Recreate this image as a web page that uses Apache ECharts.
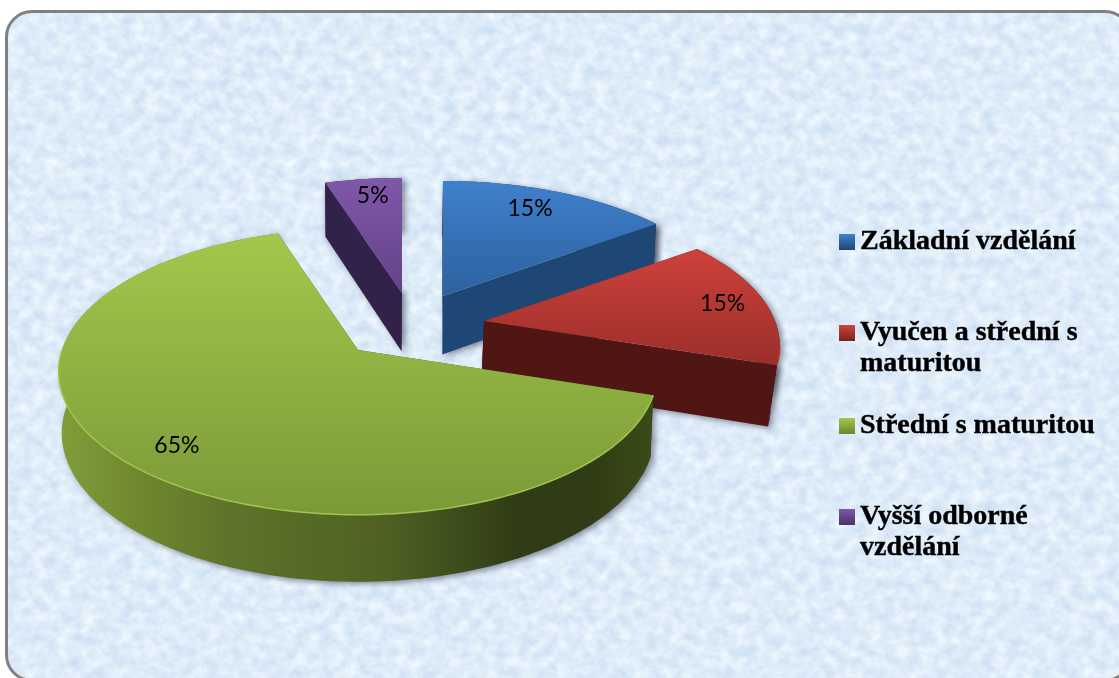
<!DOCTYPE html>
<html><head><meta charset="utf-8">
<style>
html,body{margin:0;padding:0;width:1119px;height:678px;overflow:hidden;background:#fff}
#frame{position:absolute;left:5px;top:10px;width:1127px;height:672px;box-sizing:border-box;border:3px solid #808080;border-radius:27px;background-color:#dcebf8}
#chart{position:absolute;left:0;top:0;width:1119px;height:678px}
</style>
<script src="https://cdn.jsdelivr.net/npm/echarts@6/dist/echarts.min.js"></script>
</head><body>
<div id="frame"></div>
<div id="chart"></div>
<script>
const categories = ['Základní vzdělání', 'Vyučen a střední s maturitou', 'Střední s maturitou', 'Vyšší odborné vzdělání'];
const legendLabels = ['Základní vzdělání', 'Vyučen a střední s\nmaturitou', 'Střední s maturitou', 'Vyšší odborné\nvzdělání'];
const values = [15, 15, 65, 5];

// paper texture of the panel
const svg = '<svg xmlns="http://www.w3.org/2000/svg" width="1127" height="672"><filter id="n" x="0" y="0" width="100%" height="100%" color-interpolation-filters="sRGB"><feTurbulence type="fractalNoise" baseFrequency="0.08 0.09" numOctaves="4" seed="7"/><feColorMatrix values="0.2 0 0 0 0.77  0.15 0 0 0 0.85  0.06 0 0 0 0.945  0 0 0 0 1"/></filter><rect width="1127" height="672" filter="url(#n)"/></svg>';
document.getElementById('frame').style.backgroundImage = 'url("data:image/svg+xml,' + encodeURIComponent(svg) + '")';

// view of each exploded slice: screen apex, radii, perspective, colours
const views = [
  {ax:443, ay:296, rx:291, ry:135.6, p:0.179, sx:0.99,  sh0:true,  sh1:true,  top:['#3f80cc','#2c619e'], y0:180, y1:296, wall:'#1d426f', wall2:'#1f4776', rim:'#4a8ad4', lt:25,  lf:0.8},
  {ax:484, ay:321, rx:291, ry:135.6, p:0.179, sx:0.978, sh0:false, sh1:true,  top:['#cf423c','#9a2e2a'], y0:247, y1:365, wall:'#561815', wall2:'#4f1613', rim:'#b23a35', lt:81,  lf:0.85},
  {ax:358, ay:350, rx:296, ry:140,   p:0.15,  sx:0.99,  sh0:false, sh1:false, top:['#a3c84c','#7a9a38'], y0:231, y1:515, wall:'#3a4a18', wall2:'#3a4a18', rim:'#a0c64d', lt:222, lf:0.83},
  {ax:402, ay:293, rx:291, ry:135.6, p:0.179, sx:0.99,  sh0:true,  sh1:true,  top:['#7f58a8','#634288'], y0:178, y1:293, wall:'#32224a', wall2:'#32224a', rim:'#8a63b4', lt:352, lf:0.83}
];
const legendColors = [['#3f80cc','#1f4776'],['#cf423c','#7a2320'],['#a3c84c','#6a8630'],['#7f58a8','#4b3268']];
const legendTops = [224, 315, 408, 499];
const legendHeights = [16, 47, 16, 47];
const paint = [3, 0, 1, 2];

const grad = (x, y, x2, y2, stops) => new echarts.graphic.LinearGradient(x, y, x2, y2,
  stops.map((c, i) => Array.isArray(c) ? {offset:c[0], color:c[1]} : {offset:i/(stops.length-1), color:c}), true);
const total = values.reduce((a, b) => a + b, 0);
const shadow = {shadowColor:'rgba(30,30,50,0.5)', shadowBlur:6, shadowOffsetX:3, shadowOffsetY:2};

function renderSlice(i) {
  return function (params, api) {
    const v = views[i], val = api.value(0);
    const before = values.slice(0, i).reduce((a, b) => a + b, 0);
    const a0 = before/total*360, a1 = a0 + val/total*360;
    const P = (deg, f) => {
      const t = deg*Math.PI/180, fr = f === undefined ? 1 : f;
      const X = fr*Math.sin(t), Y = -fr*Math.cos(t), w = 1 - v.p*Y;
      return [v.ax + v.rx*X/w, v.ay + v.ry*Y/w];
    };
    const lower = q => [370 + (q[0]-370)*v.sx, q[1]*1.039 + 47];
    const arc = [], rimArc = [];
    for (let d = a0; d < a1; d += 1.5) {
      arc.push(P(d));
      if (d > 100 && d < 270) rimArc.push(P(d));
    }
    arc.push(P(a1));
    const apex = [v.ax, v.ay];
    const poly = (points, fill, extra) => ({type:'polygon', shape:{points}, style:Object.assign({fill}, extra||{})});
    const outerFill = i === 2
      ? grad(60,0,650,0,[[0,'#7f9e3a'],[0.12,'#71892f'],[0.3,'#5d722a'],[0.55,'#4e6123'],[0.78,'#2f3b14'],[0.9,'#303c15'],[1,'#3a4a18']])
      : v.wall;
    const wallStart = poly([P(a0), apex, lower(apex), lower(P(a0))], v.wall2, v.sh0 ? shadow : null);
    const wallEnd = poly([P(a1), apex, lower(apex), lower(P(a1))], v.wall2, v.sh1 ? shadow : null);
    const outer = poly(arc.concat(arc.slice().reverse().map(lower)), outerFill, shadow);
    const children = [];
    if (!v.sh0) children.push(wallStart);
    if (!v.sh1) children.push(wallEnd);
    children.push(outer);
    if (v.sh0) children.push(wallStart);
    if (v.sh1) children.push(wallEnd);
    children.push(poly([apex].concat(arc), grad(0, v.y0, 0, v.y1, v.top)));
    if (rimArc.length) children.push({type:'polyline', shape:{points:rimArc}, style:{stroke:v.rim, lineWidth:1.5, fill:null}});
    const lp = P(v.lt, v.lf);
    children.push({type:'text', x:lp[0], y:lp[1], style:{text:val + '%', fill:'#000', font:'23px Lato, sans-serif', align:'center', verticalAlign:'middle'}});
    return {type:'group', children};
  };
}

const chart = echarts.init(document.getElementById('chart'), null, {renderer:'canvas'});
chart.setOption({
  backgroundColor:'transparent',
  animation:false,
  legend: categories.map((c, i) => ({
    data:[c], left:839, top:legendTops[i], orient:'vertical', padding:0,
    selectedMode:false, itemWidth:16, itemHeight:legendHeights[i],
    icon: legendHeights[i] > 16 ? 'path://M0 0H16V16H0Z M0 47H0.01V47Z' : 'rect',
    itemStyle:{color:new echarts.graphic.LinearGradient(0,0,0,legendHeights[i] > 16 ? 0.34 : 1,[{offset:0,color:legendColors[i][0]},{offset:1,color:legendColors[i][1]}]), borderWidth:0},
    formatter:() => legendLabels[i],
    textStyle:{fontFamily:'"Liberation Serif", serif', fontWeight:'bold', fontSize:28, lineHeight:31, color:'#000', textBorderColor:'#000', textBorderWidth:0.4, padding:[5,0,0,0]}
  })),
  series: paint.map(i => ({
    type:'custom', name:categories[i], coordinateSystem:'none', silent:true,
    itemStyle:{color:views[i].top[0]},
    renderItem:renderSlice(i),
    data:[[values[i]]]
  }))
});
</script>
</body></html>
